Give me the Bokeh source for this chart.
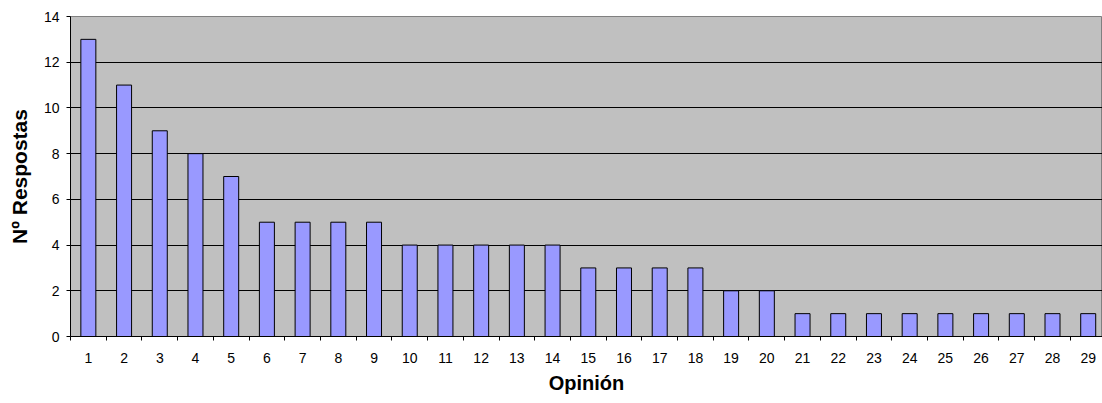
from bokeh.plotting import figure
from bokeh.models import Range1d, FixedTicker, ColumnDataSource
from bokeh.embed import file_html
from bokeh.resources import INLINE

categories = [str(i) for i in range(1, 30)]
values = [13, 11, 9, 8, 7, 5, 5, 5, 5, 4, 4, 4, 4, 4, 3, 3, 3, 3, 2, 2,
          1, 1, 1, 1, 1, 1, 1, 1, 1]
y_ticks = [0, 2, 4, 6, 8, 10, 12, 14]
x_title = "Opinión"
y_title = "Nº Respostas"

xs = list(range(1, len(categories) + 1))
src = ColumnDataSource(dict(x=xs, top=values))

p = figure(width=1102, height=403, output_backend="svg", toolbar_location=None,
           x_range=Range1d(0.5, 29.4), y_range=Range1d(0, 14),
           min_border_left=70, min_border_right=0, min_border_top=16,
           min_border_bottom=67)

p.background_fill_color = "#C0C0C0"
p.border_fill_color = "white"
p.outline_line_color = "#808080"
p.outline_line_width = 1

p.vbar(x="x", top="top", width=0.42, bottom=0, source=src,
       fill_color="#9999FF", line_color="black", line_width=1)

font = "Liberation Sans"

p.xaxis.ticker = FixedTicker(ticks=xs, minor_ticks=[x - 0.5 for x in xs] + [xs[-1] + 0.5])
p.xaxis.major_label_overrides = {x: c for x, c in zip(xs, categories)}
p.xaxis.major_tick_line_color = None
p.xaxis.minor_tick_line_color = "black"
p.xaxis.minor_tick_in = 0
p.xaxis.minor_tick_out = 4
p.xaxis.major_label_standoff = 10
p.xaxis.axis_label = x_title
p.xaxis.axis_label_text_font = font
p.xaxis.axis_label_text_font_style = "bold"
p.xaxis.axis_label_text_font_size = "20px"
p.xaxis.axis_label_text_color = "black"
p.xaxis.axis_label_standoff = 6
p.xaxis.major_label_text_font = font
p.xaxis.major_label_text_font_size = "14px"
p.xaxis.major_label_text_color = "black"
p.xaxis.axis_line_color = "black"

p.yaxis.ticker = FixedTicker(ticks=y_ticks, minor_ticks=[])
p.yaxis.major_tick_in = 0
p.yaxis.major_tick_out = 4
p.yaxis.major_tick_line_color = "black"
p.yaxis.major_label_standoff = 7
p.yaxis.axis_label = y_title
p.yaxis.axis_label_text_font = font
p.yaxis.axis_label_text_font_style = "bold"
p.yaxis.axis_label_text_font_size = "21px"
p.yaxis.axis_label_text_color = "black"
p.yaxis.axis_label_standoff = 10
p.yaxis.major_label_text_font = font
p.yaxis.major_label_text_font_size = "14px"
p.yaxis.major_label_text_color = "black"
p.yaxis.axis_line_color = "black"

p.xgrid.grid_line_color = None
p.ygrid.ticker = FixedTicker(ticks=[t for t in y_ticks if 0 < t < max(y_ticks)])
p.ygrid.grid_line_color = "black"
p.ygrid.grid_line_width = 1

open("out.html", "w").write(file_html(p, INLINE))
